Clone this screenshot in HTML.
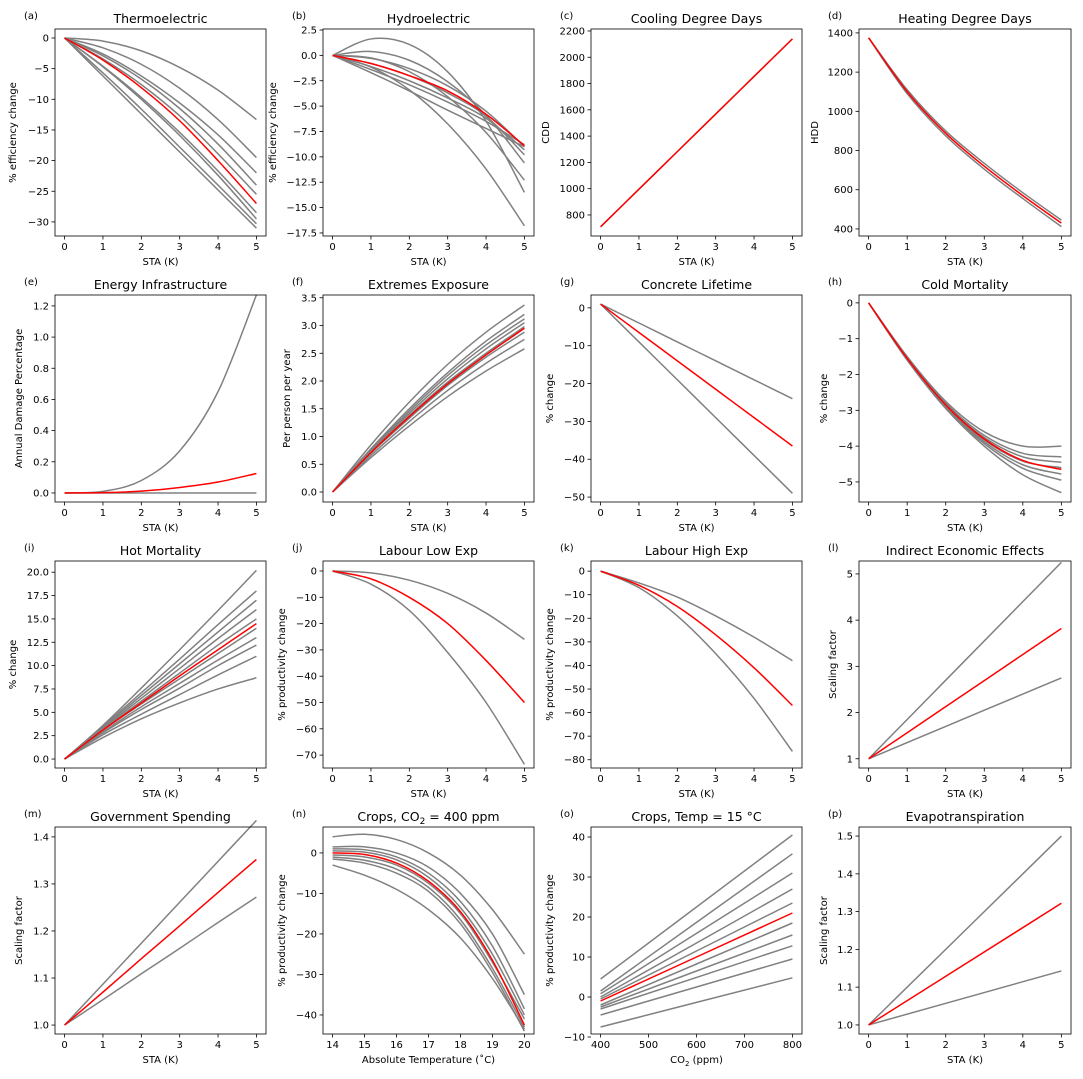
<!DOCTYPE html>
<html><head><meta charset="utf-8">
<style>
body{margin:0;background:#fff;}
svg{display:block;font-family:"DejaVu Sans","Liberation Sans",sans-serif;}
</style></head>
<body>
<svg id="fig" width="1083" height="1079" viewBox="0 0 1083 1079"></svg>
<script>
const staX = [0,1,2,3,4,5];
const staEnds = [0,5];
const staTicks = [0,1,2,3,4,5];
const tempX = [14,15,16,17,18,19,20];
const tempTicks = [14,15,16,17,18,19,20];
const co2X = [400,800];
const co2Ticks = [400,500,600,700,800];

const aGray = [[0,-0.5,-2.1,-4.8,-8.5,-13.3],[0,-1.6,-4.3,-8.2,-13.3,-19.5],[0,-2.6,-6.2,-10.6,-15.8,-22],[0,-2.9,-6.7,-11.5,-17.3,-24],[0,-3.4,-7.6,-12.7,-18.9,-25.5],[0,-4.6,-9.7,-15.4,-21.7,-28.5],[0,-4.7,-10,-15.9,-22.4,-29.5],[0,-5.7,-11.6,-17.8,-24,-30.3],[0,-6.2,-12.4,-18.6,-24.8,-31]];
const aRed = [0,-3.6,-8.1,-13.5,-20,-27];
const bGray = [[0,1.62,1.08,-1.62,-6.48,-13.5],[0,0.38,-0.48,-2.6,-5.9,-10.6],[0,-0.25,-1.6,-4.07,-7.6,-12.3],[0,-1.15,-3.4,-6.75,-11.2,-16.8],[0,-0.3,-1.3,-3,-5.5,-9],[0,-1.4,-2.9,-4.6,-6.5,-8.8],[0,-1.1,-2.5,-4.2,-6.2,-9.3],[0,-0.8,-2,-3.7,-6,-9.8],[0,-1.7,-3.5,-5.4,-7.2,-9.0]];
const bRed = [0,-0.8,-2,-3.5,-5.8,-8.9];
const cGray = [[710,996,1282,1568,1854,2140]];
const cRed = [710,996,1282,1568,1854,2140];
const dGray = [[1375,1110,900,735,585,445],[1375,1090,875,705,555,412]];
const dRed = [1375,1100,888,720,570,430];
const eGray = [[0,0,0,0,0,0],[0,0.01,0.08,0.27,0.65,1.27]];
const eRed = [0,0.002,0.012,0.035,0.07,0.125];
const fGray = [[0,0.85,1.62,2.3,2.88,3.37],[0,0.78,1.5,2.15,2.72,3.2],[0,0.76,1.46,2.1,2.65,3.12],[0,0.74,1.42,2.04,2.58,3.05],[0,0.72,1.38,1.98,2.5,2.98],[0,0.7,1.33,1.92,2.43,2.88],[0,0.66,1.27,1.83,2.32,2.75],[0,0.62,1.19,1.72,2.18,2.58]];
const fRed = [0,0.71,1.36,1.95,2.47,2.95];
const gGray = [[1,-4,-9,-14,-19,-24],[1,-9,-19,-29,-39,-49]];
const gRed = [1,-6.5,-14,-21.5,-29,-36.5];
const hGray = [[0,-1.5,-2.75,-3.6,-4.0,-4.0],[0,-1.52,-2.8,-3.7,-4.2,-4.3],[0,-1.54,-2.83,-3.76,-4.3,-4.45],[0,-1.56,-2.87,-3.83,-4.42,-4.6],[0,-1.57,-2.9,-3.88,-4.52,-4.78],[0,-1.58,-2.92,-3.93,-4.62,-4.95],[0,-1.6,-2.95,-4.0,-4.8,-5.3]];
const hRed = [0,-1.55,-2.85,-3.8,-4.4,-4.65];
const iGray = [[0,3.6,7.6,11.7,15.9,20.2],[0,3.5,7.1,10.7,14.4,18],[0,3.4,6.8,10.2,13.6,17],[0,3.3,6.5,9.7,12.9,16],[0,3.2,6.2,9.2,12.2,15],[0,3.1,5.9,8.6,11.3,14],[0,2.9,5.6,8.1,10.6,13],[0,2.8,5.3,7.6,10,12.2],[0,2.6,4.8,6.9,9,11],[0,2.3,4.3,6,7.5,8.7]];
const iRed = [0,3.1,6.0,8.9,11.7,14.5];
const jGray = [[0,-0.7,-3.5,-8.5,-16,-26],[0,-5,-15,-31,-50,-73.5]];
const jRed = [0,-3,-10,-20,-34,-50];
const kGray = [[0,-5,-11,-19,-28,-38],[0,-7,-19,-35,-54,-76.5]];
const kRed = [0,-6,-15,-27,-41,-57];
const lGray = [[1,1.85,2.7,3.55,4.4,5.25],[1,1.35,1.7,2.05,2.4,2.75]];
const lRed = [1,1.564,2.128,2.692,3.256,3.82];
const mGray = [[1,1.087,1.174,1.261,1.348,1.435],[1,1.054,1.109,1.163,1.218,1.272]];
const mRed = [1,1.07,1.141,1.211,1.282,1.352];
const nGray = [[4,4.6,3.3,0,-5.5,-14,-25],[1.5,1.5,0,-3.5,-10,-20,-35],[1,0.8,-1,-5,-12,-23,-38.5],[0.5,0.2,-1.7,-6,-13.5,-25,-40],[-0.5,-1,-3,-7.5,-15,-27,-41],[-1,-1.8,-4,-8.5,-16.5,-28.5,-43],[-1.5,-2.5,-5,-9.5,-17.5,-29.5,-44],[-3,-5.5,-9,-14,-21,-31,-43.5]];
const nRed = [0,-0.4,-2.5,-7,-14.5,-26.5,-42.5];
const oGray = [[4.5,40.5],[1.5,35.8],[0.8,31],[0,27],[-0.5,23.5],[-2,18.5],[-2.5,15.5],[-3,12.8],[-4.5,9.5],[-7.5,4.8]];
const oRed = [-1,21];
const pGray = [[1,1.5],[1,1.143]];
const pRed = [1,1.322];

const panels = [
 {id:'a',title:'Thermoelectric',xs:staX,xt:staTicks,xl:[-0.25,5.25],yl:[-32.3,1.47],yt:[0,-5,-10,-15,-20,-25,-30],ylab:'% efficiency change',xlab:'STA (K)',g:aGray,r:aRed,ylx:16,dec:0},
 {id:'b',title:'Hydroelectric',xs:staX,xt:staTicks,xl:[-0.25,5.25],yl:[-17.8,2.6],yt:[2.5,0,-2.5,-5,-7.5,-10,-12.5,-15,-17.5],ylab:'% efficiency change',xlab:'STA (K)',g:bGray,r:bRed,ylx:276,dec:1},
 {id:'c',title:'Cooling Degree Days',xs:staX,xt:staTicks,xl:[-0.25,5.25],yl:[640,2215],yt:[800,1000,1200,1400,1600,1800,2000,2200],ylab:'CDD',xlab:'STA (K)',g:cGray,r:cRed,ylx:549,dec:0},
 {id:'d',title:'Heating Degree Days',xs:staX,xt:staTicks,xl:[-0.25,5.25],yl:[364,1420],yt:[400,600,800,1000,1200,1400],ylab:'HDD',xlab:'STA (K)',g:dGray,r:dRed,ylx:818,dec:0},
 {id:'e',title:'Energy Infrastructure',xs:staX,xt:staTicks,xl:[-0.25,5.25],yl:[-0.058,1.27],yt:[0,0.2,0.4,0.6,0.8,1.0,1.2],ylab:'Annual Damage Percentage',xlab:'STA (K)',g:eGray,r:eRed,ylx:22,dec:1},
 {id:'f',title:'Extremes Exposure',xs:staX,xt:staTicks,xl:[-0.25,5.25],yl:[-0.18,3.55],yt:[0,0.5,1,1.5,2,2.5,3,3.5],ylab:'Per person per year',xlab:'STA (K)',g:fGray,r:fRed,ylx:290,dec:1},
 {id:'g',title:'Concrete Lifetime',xs:staX,xt:staTicks,xl:[-0.25,5.25],yl:[-51.3,3.4],yt:[0,-10,-20,-30,-40,-50],ylab:'% change',xlab:'STA (K)',g:gGray,r:gRed,ylx:553,dec:0},
 {id:'h',title:'Cold Mortality',xs:staX,xt:staTicks,xl:[-0.25,5.25],yl:[-5.56,0.22],yt:[0,-1,-2,-3,-4,-5],ylab:'% change',xlab:'STA (K)',g:hGray,r:hRed,ylx:827,dec:0},
 {id:'i',title:'Hot Mortality',xs:staX,xt:staTicks,xl:[-0.25,5.25],yl:[-0.96,21.2],yt:[0,2.5,5,7.5,10,12.5,15,17.5,20],ylab:'% change',xlab:'STA (K)',g:iGray,r:iRed,ylx:16,dec:1},
 {id:'j',title:'Labour Low Exp',xs:staX,xt:staTicks,xl:[-0.25,5.25],yl:[-74.9,3.8],yt:[0,-10,-20,-30,-40,-50,-60,-70],ylab:'% productivity change',xlab:'STA (K)',g:jGray,r:jRed,ylx:285,dec:0},
 {id:'k',title:'Labour High Exp',xs:staX,xt:staTicks,xl:[-0.25,5.25],yl:[-83.5,4.3],yt:[0,-10,-20,-30,-40,-50,-60,-70,-80],ylab:'% productivity change',xlab:'STA (K)',g:kGray,r:kRed,ylx:553,dec:0},
 {id:'l',title:'Indirect Economic Effects',xs:staX,xt:staTicks,xl:[-0.25,5.25],yl:[0.8,5.28],yt:[1,2,3,4,5],ylab:'Scaling factor',xlab:'STA (K)',g:lGray,r:lRed,ylx:836,dec:0},
 {id:'m',title:'Government Spending',xs:staX,xt:staTicks,xl:[-0.25,5.25],yl:[0.981,1.421],yt:[1.0,1.1,1.2,1.3,1.4],ylab:'Scaling factor',xlab:'STA (K)',g:mGray,r:mRed,ylx:22,dec:1},
 {id:'n',title:'CO2',xs:tempX,xt:tempTicks,xl:[13.7,20.3],yl:[-44.7,6.4],yt:[0,-10,-20,-30,-40],ylab:'% productivity change',xlab:'Absolute Temperature (˚C)',g:nGray,r:nRed,ylx:285,dec:0},
 {id:'o',title:'Crops, Temp = 15 °C',xs:co2X,xt:co2Ticks,xl:[380,820],yl:[-9.25,42.5],yt:[-10,0,10,20,30,40],ylab:'% productivity change',xlab:'CO2x',g:oGray,r:oRed,ylx:553,dec:0},
 {id:'p',title:'Evapotranspiration',xs:staEnds,xt:staTicks,xl:[-0.25,5.25],yl:[0.976,1.524],yt:[1.0,1.1,1.2,1.3,1.4,1.5],ylab:'Scaling factor',xlab:'STA (K)',g:pGray,r:pRed,ylx:827,dec:1}
];
const lefts=[55,323,591,859], tops=[29,295,561,827], W=211, H=207;
const NS='http://www.w3.org/2000/svg';
const svg=document.getElementById('fig');
function mk(tag,attrs,parent){const e=document.createElementNS(NS,tag);for(const k in attrs)e.setAttribute(k,attrs[k]);(parent||svg).appendChild(e);return e;}
function fmt(v,d){let s=v.toFixed(d);return s.replace('-','−');}
function pathFor(xs,ys,sx,sy){
  const p=xs.map((x,i)=>[sx(x),sy(ys[i])]);
  let d='M'+p[0][0]+','+p[0][1];
  for(let i=0;i<p.length-1;i++){
    const p0=p[Math.max(0,i-1)],p1=p[i],p2=p[i+1],p3=p[Math.min(p.length-1,i+2)];
    const c1=[p1[0]+(p2[0]-p0[0])/6,p1[1]+(p2[1]-p0[1])/6];
    const c2=[p2[0]-(p3[0]-p1[0])/6,p2[1]-(p3[1]-p1[1])/6];
    d+=' C'+c1.join(',')+' '+c2.join(',')+' '+p2.join(',');
  }
  return d;
}
panels.forEach((P,idx)=>{
  const L=lefts[idx%4],T=tops[Math.floor(idx/4)];
  const w=(idx%4===3)?212:W;
  const sx=x=>L+(x-P.xl[0])/(P.xl[1]-P.xl[0])*w;
  const sy=y=>T+H-(y-P.yl[0])/(P.yl[1]-P.yl[0])*H;
  const g=mk('g',{});
  
  
  const lt=mk('text',{x:L-31,y:T-10,'font-size':10,fill:'#000'},g);lt.textContent='('+P.id+')';
  
  
  const tt=mk('text',{x:L+w/2,y:T-6,'font-size':12.5,'text-anchor':'middle',fill:'#000'},g);
  
  
  if(P.id==='n'){tt.innerHTML='Crops, CO<tspan font-size="9" dy="3">2</tspan><tspan dy="-3"> = 400 ppm</tspan>';}
  else tt.textContent=P.title;
  P.xt.forEach(v=>{const X=sx(v);mk('line',{x1:X,x2:X,y1:T+H,y2:T+H+3.5,stroke:'#000','stroke-width':0.8},g);
    const t=mk('text',{x:X,y:T+H+14,'font-size':10,'text-anchor':'middle'},g);t.textContent=fmt(v,0);
    
    });
  P.yt.forEach(v=>{const Y=sy(v);mk('line',{x1:L-3.5,x2:L,y1:Y,y2:Y,stroke:'#000','stroke-width':0.8},g);
    const t=mk('text',{x:L-6,y:Y+3.5,'font-size':10,'text-anchor':'end'},g);t.textContent=fmt(v,P.dec);
    
    });
  const xl=mk('text',{x:L+w/2,y:T+H+29,'font-size':10,'text-anchor':'middle'},g);
  
  
  if(P.xlab==='CO2x')xl.innerHTML='CO<tspan font-size="7" dy="3">2</tspan><tspan dy="-3"> (ppm)</tspan>';else xl.textContent=P.xlab;
  const yl=mk('text',{x:P.ylx,y:T+H/2,'font-size':10,'text-anchor':'middle',transform:'rotate(-90 '+P.ylx+' '+(T+H/2)+')'},g);
  yl.textContent=P.ylab;
  
  
  P.g.forEach(ys=>{const p=mk('path',{d:pathFor(P.xs,ys,sx,sy),fill:'none',stroke:'#808080','stroke-width':1.5},g);
    
    });
  const rp=mk('path',{d:pathFor(P.xs,P.r,sx,sy),fill:'none',stroke:'#ff0000','stroke-width':1.5},g);
  
  
  const fr=mk('rect',{x:L,y:T,width:w,height:H,fill:'none',stroke:'#000','stroke-width':0.8},g);
  
  
});
</script>
</body></html>
